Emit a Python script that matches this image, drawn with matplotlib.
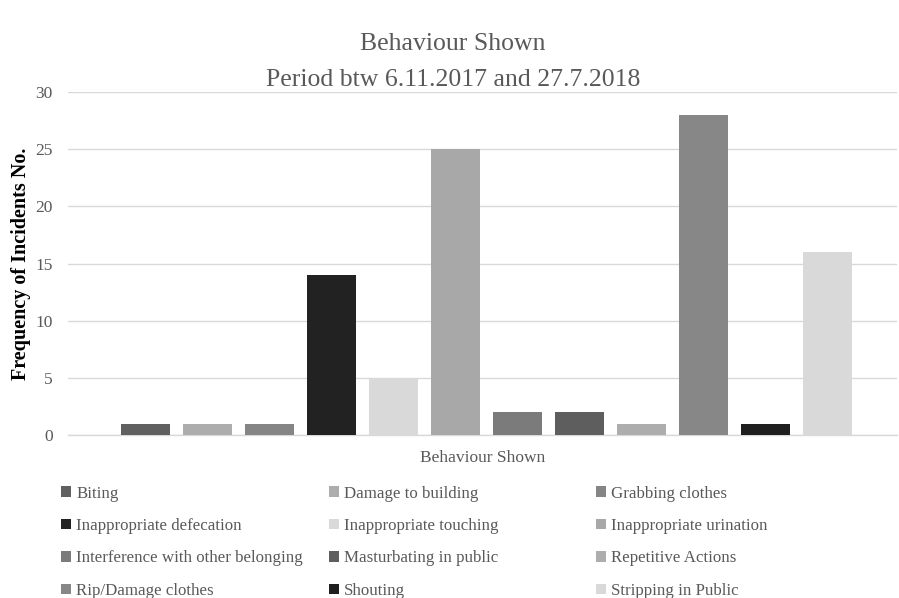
import matplotlib
matplotlib.use("Agg")
import matplotlib.pyplot as plt
from matplotlib.patches import Patch

# behaviour categories, counts and the grey used for each bar
CATEGORIES = [
    "Biting", "Damage to building", "Grabbing clothes",
    "Inappropriate defecation", "Inappropriate touching", "Inappropriate urination",
    "Interference with other belonging", "Masturbating in public", "Repetitive Actions",
    "Rip/Damage clothes", "Shouting", "Stripping in Public",
]
COUNTS = [1, 1, 1, 14, 5, 25, 2, 2, 1, 28, 1, 16]
GREYS = [
    "#606060", "#adadad", "#858585",
    "#222222", "#d9d9d9", "#a8a8a8",
    "#7b7b7b", "#5e5e5e", "#adadad",
    "#878787", "#1f1f1f", "#d9d9d9",
]
YTICKS = [0, 5, 10, 15, 20, 25, 30]

TEXT = "#595959"
SERIF = ["Liberation Serif", "DejaVu Serif"]


def main():
    plt.rcParams["font.family"] = SERIF

    fig = plt.figure(figsize=(8.99, 5.98), dpi=100)
    ax = fig.add_axes([0.0756, 0.2726, 0.9224, 0.5734])

    x = range(len(COUNTS))
    ax.bar(x, COUNTS, width=0.79, color=GREYS, zorder=3)

    ax.set_xlim(-1.25, len(COUNTS) - 1 + 1.13)
    ax.set_ylim(0, 30)
    ax.set_yticks(YTICKS)
    ax.set_xticks([])
    ax.tick_params(axis="y", length=0, pad=11, labelsize=12.5, labelcolor=TEXT)
    ax.yaxis.grid(True, color="#d9d9d9", linewidth=1.0, zorder=0)
    for side in ("top", "right", "left"):
        ax.spines[side].set_visible(False)
    ax.spines["bottom"].set_color("#d9d9d9")
    ax.spines["bottom"].set_linewidth(1.0)

    ax.set_ylabel("Frequency of Incidents No.", fontsize=14.5, fontweight="bold",
                  color="black")
    ax.yaxis.set_label_coords(-0.045, 0.5)
    ax.set_xlabel("Behaviour Shown", fontsize=12.5, color=TEXT, labelpad=11)

    fig.text(0.504, 0.944, "Behaviour Shown\nPeriod btw 6.11.2017 and 27.7.2018",
             ha="center", va="top", fontsize=18.5, color=TEXT, linespacing=1.78)

    # three one-column legends so the columns sit at fixed positions
    col_x = [0.068, 0.366, 0.663]
    for c in range(3):
        idx = [c + 3 * r for r in range(4)]
        handles = [Patch(facecolor=GREYS[i], edgecolor="none", label=CATEGORIES[i])
                   for i in idx]
        leg = fig.legend(handles=handles, loc="upper left",
                         bbox_to_anchor=(col_x[c], 0.188), frameon=False,
                         fontsize=12.2, handlelength=0.6, handleheight=0.6,
                         handletextpad=0.3, labelspacing=0.97, borderpad=0,
                         borderaxespad=0)
        for t in leg.get_texts():
            t.set_color(TEXT)

    fig.savefig("out.png", dpi=100)


if __name__ == "__main__":
    main()
